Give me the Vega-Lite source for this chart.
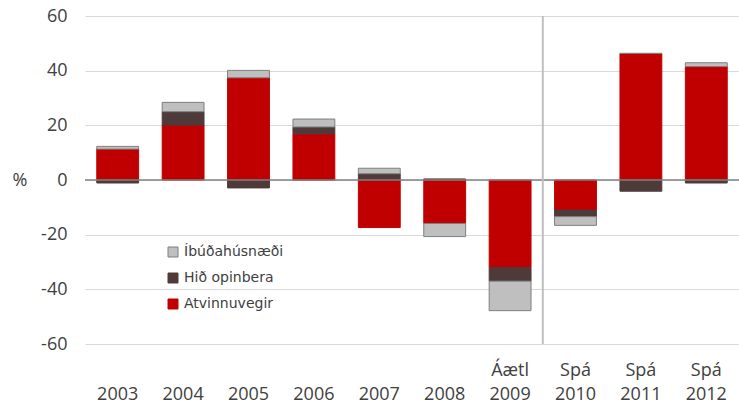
{
  "$schema": "https://vega.github.io/schema/vega-lite/v6.json",
  "width": 654,
  "height": 328,
  "autosize": {"type": "none"},
  "padding": {"left": 85, "top": 16, "right": 0, "bottom": 62},
  "config": {"view": {"stroke": null}, "font": "Open Sans"},
  "data": {
    "values": [
      {"cat": "2003", "series": "Atvinnuvegir", "ord": 1, "value": 11.3},
      {"cat": "2003", "series": "Hið opinbera", "ord": 2, "value": -1.1},
      {"cat": "2003", "series": "Íbúðahúsnæði", "ord": 3, "value": 1.0},
      {"cat": "2004", "series": "Atvinnuvegir", "ord": 1, "value": 20.1},
      {"cat": "2004", "series": "Hið opinbera", "ord": 2, "value": 4.9},
      {"cat": "2004", "series": "Íbúðahúsnæði", "ord": 3, "value": 3.4},
      {"cat": "2005", "series": "Atvinnuvegir", "ord": 1, "value": 37.4},
      {"cat": "2005", "series": "Hið opinbera", "ord": 2, "value": -2.9},
      {"cat": "2005", "series": "Íbúðahúsnæði", "ord": 3, "value": 2.7},
      {"cat": "2006", "series": "Atvinnuvegir", "ord": 1, "value": 16.9},
      {"cat": "2006", "series": "Hið opinbera", "ord": 2, "value": 2.5},
      {"cat": "2006", "series": "Íbúðahúsnæði", "ord": 3, "value": 2.9},
      {"cat": "2007", "series": "Atvinnuvegir", "ord": 1, "value": -17.4},
      {"cat": "2007", "series": "Hið opinbera", "ord": 2, "value": 2.3},
      {"cat": "2007", "series": "Íbúðahúsnæði", "ord": 3, "value": 2.0},
      {"cat": "2008", "series": "Atvinnuvegir", "ord": 1, "value": -15.9},
      {"cat": "2008", "series": "Hið opinbera", "ord": 2, "value": 0.4},
      {"cat": "2008", "series": "Íbúðahúsnæði", "ord": 3, "value": -4.8},
      {"cat": "Áætl|2009", "series": "Atvinnuvegir", "ord": 1, "value": -32.0},
      {"cat": "Áætl|2009", "series": "Hið opinbera", "ord": 2, "value": -5.0},
      {"cat": "Áætl|2009", "series": "Íbúðahúsnæði", "ord": 3, "value": -10.8},
      {"cat": "Spá|2010", "series": "Atvinnuvegir", "ord": 1, "value": -11.0},
      {"cat": "Spá|2010", "series": "Hið opinbera", "ord": 2, "value": -2.4},
      {"cat": "Spá|2010", "series": "Íbúðahúsnæði", "ord": 3, "value": -3.2},
      {"cat": "Spá|2011", "series": "Atvinnuvegir", "ord": 1, "value": 46.3},
      {"cat": "Spá|2011", "series": "Hið opinbera", "ord": 2, "value": -4.1},
      {"cat": "Spá|2011", "series": "Íbúðahúsnæði", "ord": 3, "value": 0.0},
      {"cat": "Spá|2012", "series": "Atvinnuvegir", "ord": 1, "value": 41.5},
      {"cat": "Spá|2012", "series": "Hið opinbera", "ord": 2, "value": -1.1},
      {"cat": "Spá|2012", "series": "Íbúðahúsnæði", "ord": 3, "value": 1.4}
    ]
  },
  "layer": [
    {
      "mark": {"type": "bar", "width": {"band": 0.64}, "strokeWidth": 1},
      "encoding": {
        "x": {
          "field": "cat", "type": "nominal", "sort": null,
          "scale": {"paddingInner": 0, "paddingOuter": 0},
          "axis": {
            "title": null, "labelAngle": 0, "domain": false, "ticks": false, "grid": false,
            "labelExpr": "indexof(datum.value,'|') >= 0 ? split(datum.value,'|') : ['', datum.value]",
            "labelFontSize": 18, "labelLineHeight": 24, "labelPadding": 17, "labelBaseline": "top",
            "labelColor": "#404040"
          }
        },
        "y": {
          "field": "value", "type": "quantitative", "stack": "zero",
          "scale": {"domain": [-60, 60]},
          "axis": {
            "values": [-60, -40, -20, 0, 20, 40, 60],
            "labelExpr": "'' + datum.value",
            "domain": false, "ticks": false, "grid": true, "gridColor": "#d9d9d9",
            "labelFontSize": 18, "labelColor": "#404040", "labelPadding": 18,
            "title": "%", "titleAngle": 0, "titleFontSize": 18, "titleFontWeight": "normal",
            "titleColor": "#404040", "titleAlign": "left", "titleBaseline": "middle",
            "titleX": -73, "titleY": 164
          }
        },
        "color": {
          "field": "series", "type": "nominal",
          "scale": {"domain": ["Íbúðahúsnæði", "Hið opinbera", "Atvinnuvegir"], "range": ["#bfbfbf", "#4f3a3a", "#c00000"]},
          "legend": {
            "title": null, "orient": "none", "legendX": 81, "legendY": 229,
            "symbolType": "square", "symbolSize": 100, "symbolStrokeWidth": 1,
            "labelFont": "DejaVu Sans", "labelFontSize": 14, "labelColor": "#404040",
            "rowPadding": 12, "labelOffset": 4
          }
        },
        "stroke": {
          "field": "series", "type": "nominal",
          "scale": {"domain": ["Íbúðahúsnæði", "Hið opinbera", "Atvinnuvegir"], "range": ["#7f7f7f", "#4f3a3a", "#c00000"]},
          "legend": {
            "title": null, "orient": "none", "legendX": 81, "legendY": 229,
            "symbolType": "square", "symbolSize": 100, "symbolStrokeWidth": 1,
            "labelFont": "DejaVu Sans", "labelFontSize": 14, "labelColor": "#404040",
            "rowPadding": 12, "labelOffset": 4
          }
        },
        "order": {"field": "ord", "type": "quantitative"}
      }
    },
    {
      "data": {"values": [{"zero": 0}]},
      "mark": {"type": "rule", "color": "#808080", "strokeWidth": 1.5},
      "encoding": {"y": {"field": "zero", "type": "quantitative"}}
    },
    {
      "data": {"values": [{"cat": "Spá|2010", "top": 60, "bottom": -60}]},
      "mark": {"type": "rule", "color": "#bfbfbf", "strokeWidth": 2},
      "encoding": {
        "x": {"field": "cat", "type": "nominal", "bandPosition": 0, "sort": null},
        "y": {"field": "top", "type": "quantitative"},
        "y2": {"field": "bottom"}
      }
    }
  ]
}
